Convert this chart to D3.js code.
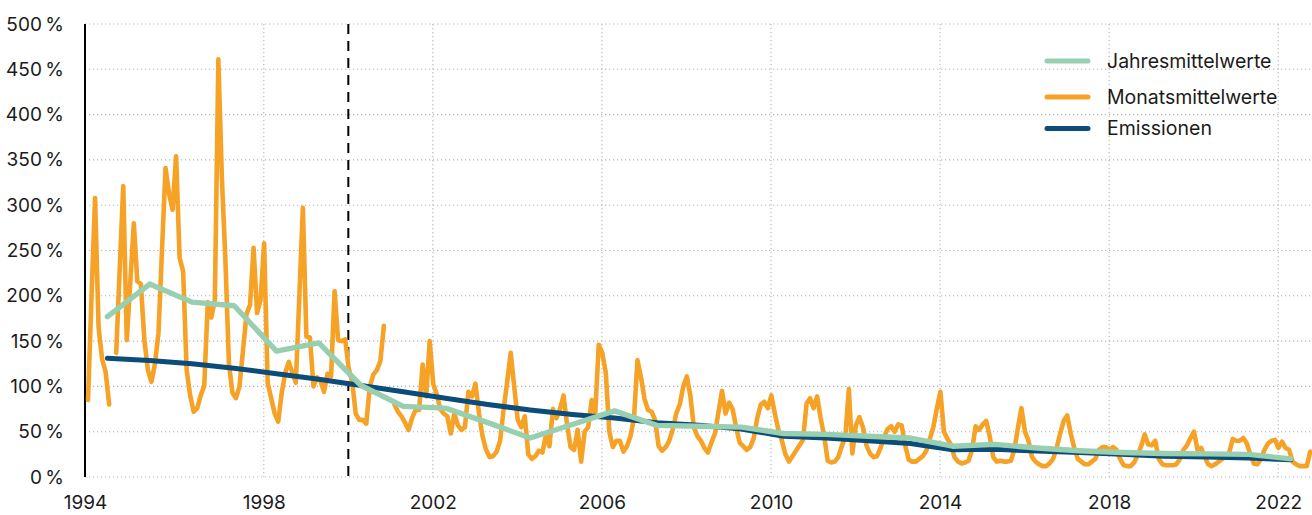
<!DOCTYPE html>
<html>
<head>
<meta charset="utf-8">
<script src="https://cdn.jsdelivr.net/npm/d3@7"></script>
<style>
  html, body { margin: 0; padding: 0; background: #fff; }
  svg { display: block; font-family: Inter, "Noto Sans", sans-serif; }
</style>
</head>
<body>
<div id="chart"></div>
<script>
// monthly means, one row per year (Jan..Dec), null = no value
var years = d3.range(1994, 2023);

var monthly = [
  [85, 200, 308, 165, 130, 116, 80, null, 137, 230, 321, 151],   // 1994
  [215, 280, 216, 213, 151, 118, 105, 125, 159, 250, 341, 313],  // 1995
  [295, 354, 242, 227, 118, 90, 72, 76, 90, 101, 193, 176],      // 1996
  [195, 461, 330, 240, 125, 93, 87, 100, 140, 180, 190, 253],    // 1997
  [181, 196, 258, 104, 87, 70, 61, 93, 115, 127, 115, 104],      // 1998
  [200, 297, 155, 154, 100, 110, 106, 94, 114, 111, 205, 151],   // 1999
  [150, 152, 120, 105, 70, 63, 63, 59, 100, 113, 118, 128],      // 2000
  [167, null, null, 80, 72, 67, 60, 52, 65, 74, 74, 124],        // 2001
  [89, 150, 103, 91, 75, 70, 67, 48, 70, 57, 52, 55],            // 2002
  [94, 89, 103, 70, 45, 30, 22, 23, 28, 40, 75, 105],            // 2003
  [137, 100, 63, 55, 67, 25, 20, 23, 29, 27, 46, 34],            // 2004
  [75, 65, 75, 90, 58, 33, 30, 52, 17, 50, 55, 85],              // 2005
  [70, 146, 137, 115, 50, 33, 40, 40, 28, 34, 45, 65],           // 2006
  [129, 110, 86, 74, 72, 63, 34, 29, 33, 40, 52, 70],            // 2007
  [80, 100, 111, 90, 55, 45, 40, 32, 27, 38, 48, 72],            // 2008
  [95, 70, 82, 75, 55, 38, 34, 30, 33, 43, 65, 80],              // 2009
  [83, 76, 90, 70, 52, 40, 25, 17, 23, 29, 35, 41],              // 2010
  [81, 87, 76, 89, 65, 45, 18, 16, 17, 22, 34, 44],              // 2011
  [97, 26, 57, 66, 55, 35, 26, 22, 23, 32, 44, 53],              // 2012
  [56, 50, 58, 57, 35, 19, 17, 17, 20, 23, 29, 42],              // 2013
  [55, 76, 94, 50, 42, 36, 22, 17, 15, 16, 18, 30],              // 2014
  [56, 52, 58, 62, 45, 22, 17, 18, 17, 17, 18, 30],              // 2015
  [54, 76, 50, 40, 22, 17, 14, 12, 12, 15, 20, 32],              // 2016
  [48, 62, 68, 48, 32, 20, 17, 14, 14, 17, 20, 30],              // 2017
  [33, 33, 30, 33, 30, 20, 13, 12, 12, 16, 24, 34],              // 2018
  [47, 36, 35, 40, 20, 14, 13, 13, 13, 14, 20, 30],              // 2019
  [35, 43, 50, 30, 32, 23, 14, 12, 14, 17, 20, 22],              // 2020
  [27, 42, 40, 40, 43, 37, 25, 15, 14, 20, 30, 37],              // 2021
  [40, 41, 32, 39, 32, 30, 17, 14, 12, 12, 12, 28]               // 2022
];

// annual means and emissions, one value per year 1994..2022
var annual = [177, 213, 193, 189, 139, 148, 101, 78, 76, 60, 43, 58, 73, 57, 56,
              55, 48, 47, 45, 43, 34, 36, 32, 29, 27, 26, 25.5, 25, 20];
var emissions = [131, 128.5, 125, 120, 114, 108, 101, 94, 87, 80, 74, 69, 65, 60, 57,
                 53, 45, 43, 40, 37, 30, 30.5, 28.6, 27, 25, 23, 22, 21, 19];

var yTicks = d3.range(0, 501, 50);
var xTicks = [1998, 2002, 2006, 2010, 2014, 2018, 2022];
var markerYear = 2000;

var legendItems = [
  {label: "Jahresmittelwerte", color: "#98cfb0"},
  {label: "Monatsmittelwerte", color: "#f6a226"},
  {label: "Emissionen", color: "#0b4c7a"}
];

var width = 1312,
    height = 515,
    margin = {top: 24, right: 0, bottom: 38, left: 85};

// the series sit a little left of the year gridlines in the original
var shift = 0.2;

var svg = d3.select("#chart").append("svg")
    .attr("width", width)
    .attr("height", height);

var x = d3.scaleLinear()
    .domain([1993.77, 2022.8])
    .range([margin.left, width - margin.right]);

var y = d3.scaleLinear()
    .domain([0, 500])
    .range([height - margin.bottom, margin.top]);

// gridlines
var grid = svg.append("g")
    .attr("stroke", "#b5b5b5")
    .attr("stroke-width", 1.1)
    .attr("stroke-dasharray", "1.2,2.8");

grid.selectAll("line.h")
  .data(yTicks)
  .enter().append("line")
    .attr("class", "h")
    .attr("x1", margin.left)
    .attr("x2", width - margin.right)
    .attr("y1", d => y(d))
    .attr("y2", d => y(d));

grid.selectAll("line.v")
  .data(xTicks)
  .enter().append("line")
    .attr("class", "v")
    .attr("x1", d => x(d))
    .attr("x2", d => x(d))
    .attr("y1", y(500))
    .attr("y2", y(0));

// axes
var yAxis = svg.append("g")
    .attr("transform", `translate(${margin.left},0)`)
    .call(d3.axisLeft(y)
      .tickValues(yTicks)
      .tickSize(0)
      .tickPadding(21)
      .tickFormat(d => d + "\u2009%"));

var xAxis = svg.append("g")
    .attr("transform", `translate(0,${y(0)})`)
    .call(d3.axisBottom(x)
      .tickValues([x.domain()[0]].concat(xTicks))
      .tickSize(0)
      .tickPadding(19)
      .tickFormat(d => Math.round(d)));

[yAxis, xAxis].forEach(function (g) {
  g.select(".domain").remove();
  g.selectAll("text")
    .attr("fill", "#1b1b1b")
    .style("font-size", "19px")
    .style("font-family", "Inter, 'Noto Sans', sans-serif");
});

svg.append("line")
    .attr("x1", margin.left)
    .attr("x2", margin.left)
    .attr("y1", y(500))
    .attr("y2", y(0))
    .attr("stroke", "#000")
    .attr("stroke-width", 2);

svg.append("line")
    .attr("x1", x(markerYear))
    .attr("x2", x(markerYear))
    .attr("y1", y(500))
    .attr("y2", y(0))
    .attr("stroke", "#000")
    .attr("stroke-width", 2)
    .attr("stroke-dasharray", "10,7");

// series
var monthPoints = [];
monthly.forEach(function (row, yi) {
  row.forEach(function (v, m) {
    monthPoints.push({t: years[yi] + (m + 0.5) / 12, v: v});
  });
});
var annualPoints = years.map((yr, i) => ({t: yr + 0.5, v: annual[i]}));
var emissionPoints = years.map((yr, i) => ({t: yr + 0.5, v: emissions[i]}));

var line = d3.line()
    .defined(d => d.v != null)
    .x(d => x(d.t - shift))
    .y(d => y(d.v));

var plot = svg.append("g")
    .attr("fill", "none")
    .attr("stroke-linejoin", "round")
    .attr("stroke-linecap", "round");

plot.append("path")
    .datum(monthPoints)
    .attr("stroke", legendItems[1].color)
    .attr("stroke-width", 4.6)
    .attr("d", line);

plot.append("path")
    .datum(emissionPoints)
    .attr("stroke", legendItems[2].color)
    .attr("stroke-width", 5)
    .attr("d", line);

plot.append("path")
    .datum(annualPoints)
    .attr("stroke", legendItems[0].color)
    .attr("stroke-width", 5.4)
    .attr("d", line);

// legend
var legendY = [61, 97, 128.5];
var legend = svg.append("g")
  .selectAll("g")
  .data(legendItems)
  .enter().append("g")
    .attr("transform", (d, i) => `translate(1047,${legendY[i]})`);

legend.append("line")
    .attr("x1", 0)
    .attr("x2", 41)
    .attr("stroke", d => d.color)
    .attr("stroke-width", 5)
    .attr("stroke-linecap", "round");

legend.append("text")
    .attr("x", 60)
    .attr("dy", "0.35em")
    .attr("fill", "#1b1b1b")
    .style("font-size", "19.5px")
    .text(d => d.label);
</script>
</body>
</html>
